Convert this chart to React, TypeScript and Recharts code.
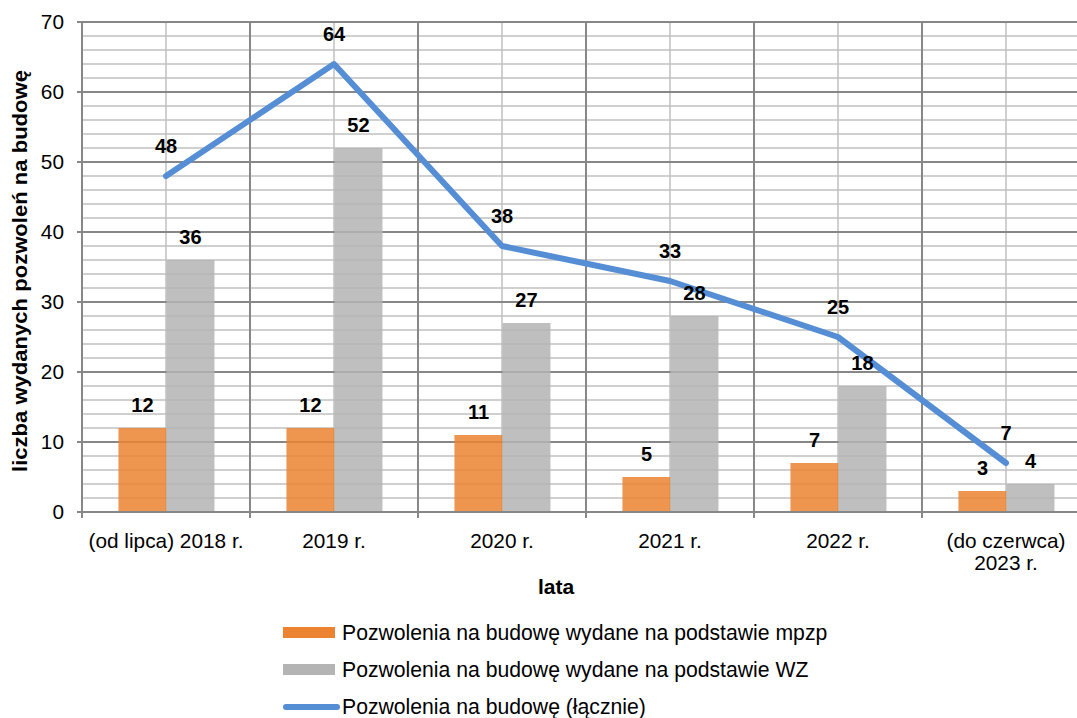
import React from "react";
import {
  Bar,
  CartesianGrid,
  ComposedChart,
  LabelList,
  Legend,
  Line,
  XAxis,
  YAxis,
} from "recharts";

const categories = [
  "(od lipca) 2018 r.",
  "2019 r.",
  "2020 r.",
  "2021 r.",
  "2022 r.",
  "(do czerwca)\n2023 r.",
];
const mpzp = [12, 12, 11, 5, 7, 3];
const wz = [36, 52, 27, 28, 18, 4];
const total = [48, 64, 38, 33, 25, 7];
const seriesNames = [
  "Pozwolenia na budowę wydane na podstawie mpzp",
  "Pozwolenia na budowę wydane na podstawie WZ",
  "Pozwolenia na budowę (łącznie)",
];
const yTicks = [0, 10, 20, 30, 40, 50, 60, 70];
const minorSteps = [2, 4, 6, 8, 12, 14, 16, 18, 22, 24, 26, 28, 32, 34, 36, 38, 42, 44, 46, 48, 52, 54, 56, 58, 62, 64, 66, 68];

const data = categories.map((name, i) => ({
  name,
  mpzp: mpzp[i],
  wz: wz[i],
  total: total[i],
}));

const Y_MAX = 70;
const FONT = "'Liberation Sans', Arial, sans-serif";
const MAJOR = "#878787";
const MINOR = "#c0c0c0";

const yAt = (offset: any, v: number) => offset.top + offset.height * (1 - v / Y_MAX);
const band = (offset: any) => offset.width / categories.length;

const minorH = ({ offset }: any) => minorSteps.map((v) => yAt(offset, v));
const majorH = ({ offset }: any) => yTicks.map((v) => yAt(offset, v));
const minorV = ({ offset }: any) => categories.map((_, i) => offset.left + band(offset) * (i + 0.5));
const majorV = ({ offset }: any) => [...categories, ""].map((_, i) => offset.left + band(offset) * i);

const XTick = ({ x, y, payload }: any) => {
  const lines = String(payload.value).split("\n");
  const half = (1100 - 10 - 82) / categories.length / 2;
  return (
    <g>
      <line x1={x - half} x2={x - half} y1={y - 8} y2={y - 2} stroke={MAJOR} strokeWidth={2} />
      <text x={x} y={y} textAnchor="middle" fontSize={20.8} fill="#000" fontFamily={FONT}>
        {lines.map((l, i) => (
          <tspan key={i} x={x} dy={i === 0 ? 28 : 22}>
            {l}
          </tspan>
        ))}
      </text>
    </g>
  );
};

const XTitle = ({ viewBox }: any) => (
  <text
    x={viewBox.x + viewBox.width / 2 - 30}
    y={viewBox.y + viewBox.height - 8}
    textAnchor="middle"
    fontSize={21}
    fontWeight="bold"
    fill="#000"
    fontFamily={FONT}
  >
    lata
  </text>
);

const YTitle = ({ viewBox }: any) => {
  const cx = 27;
  const cy = viewBox.y + viewBox.height / 2 + 4;
  return (
    <text
      x={cx}
      y={cy}
      transform={`rotate(-90 ${cx} ${cy})`}
      textAnchor="middle"
      fontSize={20}
      fontWeight="bold"
      fill="#000"
      fontFamily={FONT}
      textLength={402}
      lengthAdjust="spacingAndGlyphs"
    >
      liczba wydanych pozwoleń na budowę
    </text>
  );
};

const renderLegend = ({ payload }: any) => {
  const items = [...(payload || [])].sort(
    (a: any, b: any) => seriesNames.indexOf(a.value) - seriesNames.indexOf(b.value)
  );
  return (
    <div style={{ fontFamily: FONT, fontSize: 21.2, color: "#000" }}>
      {items.map((entry: any) => (
        <div key={entry.value} style={{ display: "flex", alignItems: "center", height: 37 }}>
          <div style={{ width: 59, display: "flex", alignItems: "center" }}>
            {entry.type === "line" ? (
              <div style={{ width: 57, height: 6, borderRadius: 3, background: entry.color }} />
            ) : (
              <div style={{ width: 52, height: 11, background: entry.color }} />
            )}
          </div>
          <span style={{ whiteSpace: "nowrap" }}>{entry.value}</span>
        </div>
      ))}
    </div>
  );
};

export default function App() {
  return (
    <div
      style={{
        position: "absolute",
        left: 0,
        top: 0,
        width: 1077,
        height: 718,
        overflow: "hidden",
        background: "#fff",
        fontFamily: FONT,
      }}
    >
      <ComposedChart
        width={1100}
        height={718}
        data={data}
        margin={{ top: 22, right: 10, bottom: 116, left: 0 }}
        barGap={0}
        barCategoryGap="21.7%"
      >
        <CartesianGrid
          stroke={MINOR}
          strokeWidth={1.5}
          horizontalCoordinatesGenerator={minorH}
          verticalCoordinatesGenerator={minorV}
        />
        <CartesianGrid
          stroke={MAJOR}
          strokeWidth={2}
          horizontalCoordinatesGenerator={majorH}
          verticalCoordinatesGenerator={majorV}
        />
        <XAxis
          dataKey="name"
          height={90}
          interval={0}
          tick={<XTick />}
          tickLine={false}
          axisLine={{ stroke: MAJOR, strokeWidth: 2 }}
          label={<XTitle />}
        />
        <YAxis
          width={82}
          domain={[0, Y_MAX]}
          ticks={yTicks}
          interval={0}
          tickSize={5}
          tickMargin={13}
          tick={{ fontSize: 20.8, fill: "#000", fontFamily: FONT }}
          tickLine={{ stroke: MAJOR, strokeWidth: 2 }}
          axisLine={{ stroke: MAJOR, strokeWidth: 2 }}
          label={<YTitle />}
        />
        <Bar
          dataKey="mpzp"
          name={seriesNames[0]}
          fill="#eb8331"
          fillOpacity={0.85}
          legendType="rect"
          isAnimationActive={false}
        >
          <LabelList dataKey="mpzp" position="top" offset={16} fontSize={20} fontWeight="bold" fill="#000" fontFamily={FONT} />
        </Bar>
        <Bar
          dataKey="wz"
          name={seriesNames[1]}
          fill="#b4b4b4"
          fillOpacity={0.85}
          legendType="rect"
          isAnimationActive={false}
        >
          <LabelList dataKey="wz" position="top" offset={16} fontSize={20} fontWeight="bold" fill="#000" fontFamily={FONT} />
        </Bar>
        <Line
          dataKey="total"
          name={seriesNames[2]}
          type="linear"
          stroke="#558ed5"
          strokeWidth={6}
          strokeLinecap="round"
          strokeLinejoin="round"
          dot={false}
          activeDot={false}
          legendType="line"
          isAnimationActive={false}
        >
          <LabelList dataKey="total" position="top" offset={23} fontSize={20} fontWeight="bold" fill="#000" stroke="none" fontFamily={FONT} />
        </Line>
        <Legend
          layout="vertical"
          align="center"
          verticalAlign="middle"
          content={renderLegend}
          wrapperStyle={{ left: 283, top: 614, width: 700 }}
        />
      </ComposedChart>
    </div>
  );
}
